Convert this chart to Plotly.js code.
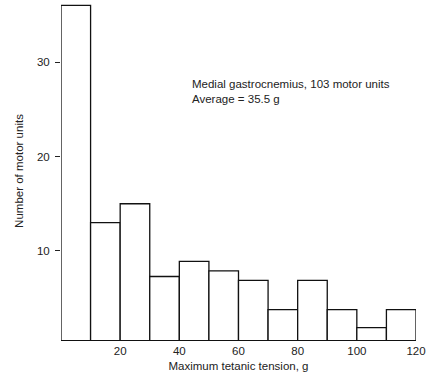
<!DOCTYPE html>
<html>
<head>
<meta charset="utf-8">
<script src="https://cdn.plot.ly/plotly-3.0.1.min.js"></script>
<style>html,body{margin:0;padding:0;background:#fff;}#chart{width:439px;height:375px;}</style>
</head>
<body>
<div id="chart"></div>
<script>
// Bin centres (g) and counts
const binCenters = [5, 15, 25, 35, 45, 55, 65, 75, 85, 95, 105, 115];
const counts = [36, 13, 15, 7.3, 8.9, 7.9, 6.9, 3.8, 6.9, 3.8, 1.9, 3.8];
const xTicks = [20, 40, 60, 80, 100, 120];
const yTicks = [10, 20, 30];
const noteLines = ["Medial gastrocnemius, 103 motor units", "Average = 35.5 g"];

const font = {family: '"Liberation Sans", Arial, Helvetica, sans-serif', size: 11.5, color: '#222'};

const trace = {
  type: 'bar',
  x: binCenters,
  y: counts,
  width: 10,
  marker: {color: '#ffffff', line: {color: '#111', width: 1.3}},
  hoverinfo: 'x+y'
};

const layout = {
  width: 439, height: 375,
  margin: {l: 61, r: 23, t: 2, b: 35},
  paper_bgcolor: '#fff', plot_bgcolor: '#fff',
  font: font,
  showlegend: false,
  bargap: 0,
  xaxis: {
    range: [0, 120],
    tickvals: xTicks,
    ticks: '',
    showgrid: false, zeroline: false,
    showline: true, linecolor: '#111', linewidth: 1.3,
    tickfont: font,
    title: {text: 'Maximum tetanic tension, g', font: font, standoff: 6}
  },
  yaxis: {
    range: [0.58, 36.35],
    tickvals: yTicks,
    ticks: 'outside', ticklen: 5, tickcolor: '#222', tickwidth: 1,
    ticklabelstandoff: 3,
    showgrid: false, zeroline: false, showline: false,
    tickfont: font,
    title: {text: 'Number of motor units', font: font, standoff: 10}
  },
  annotations: [{
    xref: 'paper', yref: 'paper',
    x: 0.363, y: 0.782,
    xanchor: 'left', yanchor: 'top', align: 'left',
    showarrow: false,
    text: noteLines.join('<br>'),
    font: font
  }]
};

Plotly.newPlot('chart', [trace], layout, {displayModeBar: false, staticPlot: true});
</script>
</body>
</html>
